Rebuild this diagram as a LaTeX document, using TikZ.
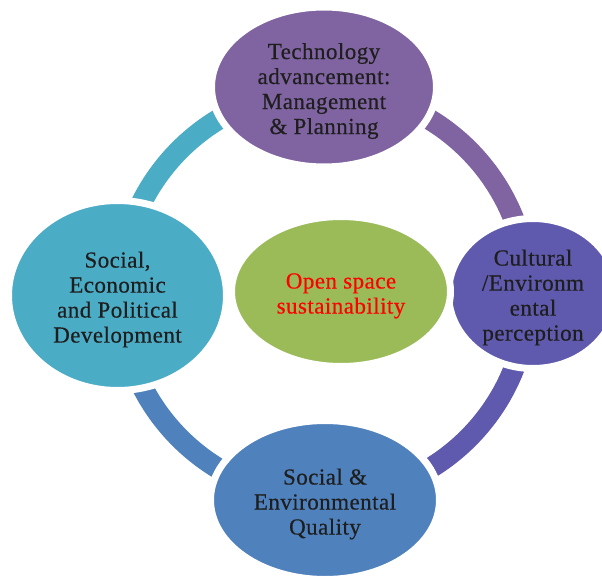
\documentclass[tikz,border=0pt]{standalone}
\usepackage{fontspec}
\setmainfont{Liberation Serif}
\newfontfamily\lblfont[LetterSpace=2,FakeBold=0.4]{Liberation Serif}
\newfontfamily\capfont{Liberation Sans}
\usetikzlibrary{shapes.geometric}
\definecolor{cAqua}{HTML}{4BACC6}
\definecolor{cPurple}{HTML}{8064A2}
\definecolor{cIndigo}{HTML}{5F5AAE}
\definecolor{cBlue}{HTML}{4F81BD}
\definecolor{cGreen}{HTML}{9BBB59}
\definecolor{inkdark}{HTML}{1E1E1E}
% taller first line, so the text block sits a little low in its bubble
\newcommand\bubblestrut{\rule{0pt}{24pt}}
\begin{document}
\begin{tikzpicture}[x=1pt,y=-1pt,
  bubble/.style={ellipse, draw=white, line width=7pt, inner sep=0pt,
    align=center, text=inkdark, font=\lblfont\fontsize{23}{25}\selectfont},
  ringseg/.style={line width=21pt}]
\useasboundingbox (0,0) rectangle (602,578);

% caption fragment running off the top edge
\node[anchor=base east, inner sep=0pt, font=\capfont\fontsize{26}{30}\selectfont]
  (cap) at (76,-0.5) {below:};

% ring segments, one per quarter, coloured like the bubble they leave
\coordinate (ring) at (324,294);
\draw[ringseg, cAqua]   (ring) ++(180:204) arc[start angle=180, end angle=270, radius=204];
\draw[ringseg, cPurple] (ring) ++(270:204) arc[start angle=270, end angle=360, radius=204];
\draw[ringseg, cIndigo] (ring) ++(0:204)   arc[start angle=0,   end angle=90,  radius=204];
\draw[ringseg, cBlue]   (ring) ++(90:204)  arc[start angle=90,  end angle=180, radius=204];

% bubbles
\node[bubble, fill=cPurple, minimum width=225, minimum height=160] (tech) at (324,87)
  {\bubblestrut Technology\\advancement:\\Management\\\& Planning};
\node[bubble, fill=cAqua, minimum width=218, minimum height=190] (soc) at (117.5,295.5)
  {\bubblestrut Social,\\Economic\\and Political\\Development};
\node[bubble, fill=cIndigo, minimum width=169, minimum height=150] (cult) at (533,293.5)
  {\bubblestrut Cultural\\/Environm\\ental\\perception};
\node[bubble, fill=cBlue, minimum width=229, minimum height=159] (qual) at (325,500)
  {\bubblestrut Social \&\\Environmental\\Quality};
\node[bubble, fill=cGreen, minimum width=219, minimum height=150, text=red] (core) at (341,291.5)
  {\bubblestrut Open space\\sustainability};
\end{tikzpicture}
\end{document}
